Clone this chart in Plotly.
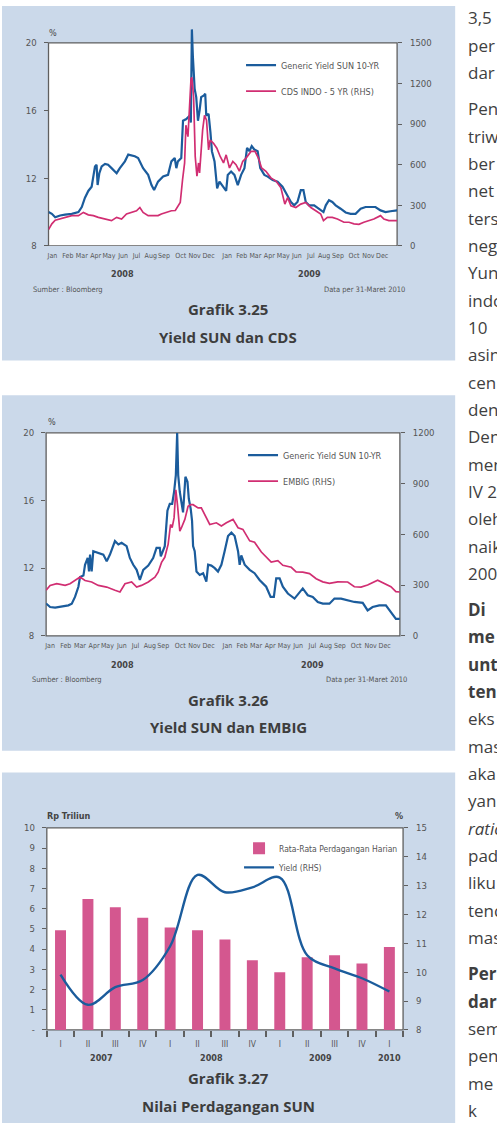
import plotly.graph_objects as go

# ---------------- data ----------------
month_pos = [0.27, 1.33, 2.29, 3.25, 4.16, 5.14, 6.06, 7.04, 7.95, 9.1, 10.06, 11.02,
             12.3, 13.3, 14.24, 15.2, 16.16, 17.1, 18.06, 18.97, 19.93, 21.03, 22.02, 22.97]
month_lbl = ["Jan", "Feb", "Mar", "Apr", "May", "Jun", "Jul", "Aug", "Sep", "Oct", "Nov", "Dec",
             "Jan", "Feb", "Mar", "Apr", "May", "Jun", "Jul", "Aug", "Sep", "Oct", "Nov", "Dec"]
year_pos_c1 = [5.1, 18.0]
year_pos_c2 = [5.2, 18.05]
year_lbl = ["2008", "2009"]

# Chart 3.25 : Generic yield SUN 10Y (%), month index since Jan-2008
c1_sun = [(0, 10.0), (0.23, 9.9), (0.46, 9.7), (0.8, 9.8), (1.14, 9.85), (1.6, 9.9), (2.06, 10.0),
          (2.29, 10.3), (2.51, 10.85), (2.74, 11.25), (2.97, 11.5), (3.09, 12.3), (3.2, 12.7),
          (3.31, 12.8), (3.38, 11.6), (3.5, 12.3), (3.66, 12.7), (3.89, 12.85), (4.1, 12.8),
          (4.34, 12.6), (4.69, 12.3), (4.91, 12.6), (5.26, 13.0), (5.49, 13.4), (5.94, 13.3),
          (6.17, 13.2), (6.51, 12.6), (6.86, 12.2), (7.09, 11.6), (7.27, 11.3), (7.54, 11.8),
          (7.89, 12.1), (8.23, 12.2), (8.46, 13.0), (8.69, 13.2), (8.8, 12.6), (8.91, 13.0),
          (9.14, 13.2), (9.26, 15.4), (9.49, 15.5), (9.71, 15.7), (9.8, 15.3), (9.87, 20.8),
          (9.94, 19.2), (10.06, 17.3), (10.17, 16.8), (10.29, 15.4), (10.4, 16.0), (10.51, 16.8),
          (10.7, 16.9), (10.79, 17.0), (10.86, 15.7), (11.02, 15.8), (11.15, 14.7), (11.25, 13.6),
          (11.43, 13.0), (11.61, 11.4), (11.77, 11.8), (12.0, 11.5), (12.23, 11.25), (12.34, 12.2),
          (12.57, 12.4), (12.8, 12.2), (13.03, 11.6), (13.26, 12.2), (13.49, 12.6), (13.67, 13.8),
          (13.83, 13.6), (13.99, 13.9), (14.17, 13.7), (14.4, 13.6), (14.58, 12.6), (14.86, 12.2),
          (15.09, 12.1), (15.43, 11.9), (15.77, 11.8), (16.11, 11.5), (16.46, 11.0), (16.69, 10.6),
          (16.91, 10.4), (17.14, 10.6), (17.37, 11.3), (17.55, 11.3), (17.71, 10.6), (17.94, 10.4),
          (18.29, 10.4), (18.63, 10.2), (18.93, 10.0), (19.09, 10.4), (19.31, 10.7), (19.54, 10.6),
          (19.77, 10.4), (20.11, 10.2), (20.46, 9.98), (20.8, 9.9), (21.14, 9.9), (21.49, 10.2),
          (21.83, 10.3), (22.17, 10.3), (22.51, 10.3), (22.86, 10.1), (23.2, 10.0), (23.54, 10.05),
          (24.0, 10.1)]
# CDS Indonesia 5Y (bps, RHS)
c1_cds = [(0, 120), (0.23, 163), (0.46, 190), (0.8, 200), (1.14, 211), (1.6, 224), (2.06, 224),
          (2.4, 248), (2.74, 230), (3.09, 224), (3.43, 211), (3.89, 199), (4.34, 187), (4.69, 211),
          (5.03, 199), (5.37, 236), (5.71, 248), (6.06, 260), (6.29, 284), (6.51, 248), (6.86, 224),
          (7.2, 224), (7.54, 224), (7.77, 236), (8.11, 248), (8.46, 260), (8.73, 262), (9.07, 321),
          (9.23, 491), (9.37, 613), (9.46, 892), (9.6, 807), (9.81, 1233), (9.87, 1245),
          (9.99, 1099), (10.1, 661), (10.22, 515), (10.33, 613), (10.4, 540), (10.61, 856),
          (10.74, 965), (10.88, 929), (11.02, 710), (11.13, 783), (11.36, 758), (11.59, 722),
          (11.82, 661), (12.05, 613), (12.23, 673), (12.46, 576), (12.69, 625), (12.91, 600),
          (13.14, 552), (13.37, 625), (13.6, 649), (13.94, 698), (14.22, 698), (14.45, 649),
          (14.67, 576), (14.97, 552), (15.31, 503), (15.66, 479), (16.0, 430), (16.27, 309),
          (16.46, 357), (16.69, 297), (17.03, 284), (17.37, 309), (17.71, 321), (18.06, 284),
          (18.4, 260), (18.74, 236), (18.93, 187), (19.2, 211), (19.54, 211), (19.89, 199),
          (20.34, 175), (20.69, 175), (21.03, 163), (21.37, 160), (21.71, 175), (22.06, 187),
          (22.4, 199), (22.86, 224), (23.09, 199), (23.43, 187), (23.77, 187), (24.0, 187)]

# Chart 3.26 : Generic yield SUN 10Y (%)
c2_sun = [(0, 9.91), (0.27, 9.7), (0.61, 9.67), (1.06, 9.75), (1.51, 9.8), (1.74, 9.9), (1.96, 10.3),
          (2.19, 10.9), (2.3, 11.47), (2.53, 11.56), (2.64, 12.2), (2.82, 12.6), (2.91, 11.8),
          (2.98, 12.8), (3.09, 11.8), (3.2, 13.0), (3.54, 12.9), (3.88, 12.8), (4.11, 12.4),
          (4.33, 12.8), (4.67, 13.6), (4.9, 13.4), (5.12, 13.5), (5.46, 13.3), (5.68, 12.6),
          (5.91, 12.2), (6.14, 11.9), (6.36, 11.3), (6.59, 11.9), (6.93, 12.15), (7.26, 12.6),
          (7.49, 13.2), (7.71, 13.2), (7.78, 12.7), (8.05, 13.3), (8.23, 15.4), (8.39, 15.8),
          (8.55, 15.8), (8.68, 16.5), (8.8, 17.5), (8.89, 20.0), (8.96, 17.5), (9.07, 16.5),
          (9.18, 15.8), (9.29, 15.3), (9.45, 17.4), (9.59, 17.1), (9.68, 16.1), (9.81, 15.5),
          (9.9, 14.8), (9.97, 13.3), (10.08, 13.0), (10.2, 11.8), (10.42, 11.6), (10.65, 11.7),
          (10.87, 11.2), (10.99, 12.2), (11.21, 12.15), (11.44, 12.0), (11.66, 11.8), (11.89, 12.2),
          (12.11, 13.0), (12.34, 13.9), (12.57, 14.1), (12.79, 13.9), (13.02, 13.0), (13.13, 12.2),
          (13.24, 12.75), (13.47, 12.2), (13.81, 11.9), (14.14, 11.7), (14.48, 11.3), (14.93, 10.9),
          (15.23, 10.3), (15.45, 10.3), (15.61, 11.4), (15.84, 11.4), (16.06, 10.9), (16.4, 10.5),
          (16.85, 10.2), (17.19, 10.6), (17.41, 10.8), (17.75, 10.4), (18.09, 10.3), (18.43, 10.0),
          (18.77, 9.9), (19.22, 9.9), (19.56, 10.2), (20.01, 10.2), (20.46, 10.1), (20.91, 10.0),
          (21.48, 9.95), (21.81, 9.5), (22.15, 9.7), (22.6, 9.8), (23.05, 9.8), (23.39, 9.4),
          (23.73, 9.0), (24.0, 9.0)]
# EMBIG (bps, RHS)
c2_embig = [(0, 269), (0.27, 298), (0.72, 308), (1.29, 298), (1.62, 308), (1.96, 327), (2.3, 347),
            (2.64, 327), (3.09, 318), (3.54, 298), (4.11, 288), (4.67, 269), (5.01, 259), (5.35, 308),
            (5.8, 318), (6.14, 288), (6.47, 298), (6.93, 318), (7.38, 347), (7.6, 376), (7.83, 434),
            (8.05, 464), (8.28, 542), (8.44, 658), (8.55, 639), (8.68, 697), (8.8, 863), (8.91, 775),
            (9.07, 619), (9.18, 639), (9.41, 688), (9.63, 765), (9.81, 775), (9.97, 775),
            (10.31, 756), (10.53, 756), (10.87, 697), (11.1, 658), (11.55, 668), (11.89, 649),
            (12.23, 668), (12.68, 688), (13.02, 639), (13.35, 629), (13.81, 561), (14.14, 553),
            (14.6, 495), (14.93, 464), (15.27, 436), (15.72, 444), (16.06, 417), (16.63, 405),
            (16.96, 378), (17.41, 376), (17.87, 368), (18.32, 337), (18.77, 319), (19.22, 310),
            (19.78, 319), (20.46, 318), (20.91, 290), (21.36, 288), (21.81, 300), (22.49, 329),
            (22.94, 308), (23.39, 290), (23.73, 261), (24.0, 259)]

# Chart 3.27
quarters = ["I", "II", "III", "IV", "I", "II", "III", "IV", "I", "II", "III", "IV", "I"]
quarter_year = ["2007", "2007", "2007", "2007", "2008", "2008", "2008", "2008",
                "2009", "2009", "2009", "2009", "2010"]
trading = [4.93, 6.48, 6.07, 5.55, 5.07, 4.93, 4.48, 3.45, 2.86, 3.6, 3.7, 3.29, 4.11]
yield_q = [9.92, 8.87, 9.48, 9.73, 10.9, 13.37, 12.77, 12.94, 13.28, 10.59, 10.13, 9.79, 9.33]

# Side body text (cut by the page edge, as in the source page)
body_lines = [("3,5", ""), ("per", ""), ("dar", ""), ("Pen", ""), ("triw", ""),
              ("ber", ""), ("net", ""), ("ters", ""), ("neg", ""), ("Yun", ""),
              ("indo", ""), ("10", ""), ("asin", ""), ("cen", ""), ("den", ""),
              ("Den", ""), ("men", ""), ("IV 2", ""), ("oleh", ""), ("naik", ""),
              ("200", ""), ("Di", "b"), ("me", "b"), ("unt", "b"), ("ten", "b"),
              ("eks", ""), ("mas", ""), ("aka", ""), ("yan", ""), ("ratio", "i"),
              ("pad", ""), ("liku", ""), ("tend", ""), ("mas", ""), ("Per", "b"),
              ("dar", "b"), ("sem", ""), ("pen", ""), ("me", ""), ("k", "")]
para_breaks = [3, 21, 34]

# ---------------- style ----------------
W, H = 497, 1128
PANEL = "#cbd9ea"
BLUE = "#1b5c9c"
PINK = "#d12e72"
BARPINK = "#d4578f"
AX = "#5f5f5f"
TXT = "#555555"
COND = "Liberation Sans Narrow, DejaVu Sans Condensed, Arial Narrow, sans-serif"
TITLEF = "Open Sans, Noto Sans, sans-serif"


def px(x):
    return x / W


def py(y):
    return 1 - y / H


fig = go.Figure()

# chart 1
fig.add_trace(go.Scatter(x=[p[0] for p in c1_sun], y=[p[1] for p in c1_sun],
                         name="Generic Yield SUN 10-YR", mode="lines", legendgroup="a1",
                         line=dict(color=BLUE, width=2.2), xaxis="x", yaxis="y", legend="legend"))
fig.add_trace(go.Scatter(x=[p[0] for p in c1_cds], y=[p[1] for p in c1_cds],
                         name="CDS INDO - 5 YR (RHS)", mode="lines", legendgroup="b1",
                         line=dict(color=PINK, width=1.7), xaxis="x", yaxis="y2", legend="legend"))
# chart 2
fig.add_trace(go.Scatter(x=[p[0] for p in c2_sun], y=[p[1] for p in c2_sun],
                         name="Generic Yield SUN 10-YR", mode="lines", legendgroup="a2",
                         line=dict(color=BLUE, width=2.2), xaxis="x2", yaxis="y3", legend="legend2"))
fig.add_trace(go.Scatter(x=[p[0] for p in c2_embig], y=[p[1] for p in c2_embig],
                         name="EMBIG (RHS)", mode="lines", legendgroup="b2",
                         line=dict(color=PINK, width=1.7), xaxis="x2", yaxis="y4", legend="legend2"))
# chart 3
qidx = list(range(len(quarters)))
fig.add_trace(go.Bar(x=qidx, y=trading, name="Rata-Rata Perdagangan Harian",
                     marker=dict(color=BARPINK, line=dict(width=0)), width=0.4,
                     xaxis="x3", yaxis="y5", legend="legend3"))
fig.add_trace(go.Scatter(x=qidx, y=yield_q, name="Yield (RHS)", mode="lines",
                         line=dict(color=BLUE, width=2.4, shape="spline", smoothing=1.0),
                         xaxis="x3", yaxis="y6", legend="legend3"))

tickfont = dict(family=COND, size=9.5, color=TXT)
monthfont = dict(family=COND, size=7, color=TXT)

# plot rectangles (pixels)
c1 = dict(l=46.7, r=396.7, t=37.3, b=242.3)
c2 = dict(l=44.3, r=399.5, t=431, b=636)
c3 = dict(l=45, r=402.7, t=830, b=1034)
c1_top_ext = 20.0  # pixel row of extended range top (spike overflow)
c1_ymax = 8 + 12 * (c1["b"] - c1_top_ext) / (c1["b"] - c1["t"])

common_x = dict(showgrid=False, zeroline=False, showline=False, tickangle=0)
common_y = dict(showgrid=False, zeroline=False, showline=False, ticks="outside",
                ticklen=4, tickwidth=1, tickcolor=AX, tickfont=tickfont)

layout = dict(
    width=W, height=H, margin=dict(l=0, r=0, t=0, b=0),
    paper_bgcolor="white", plot_bgcolor="rgba(0,0,0,0)",
    showlegend=True,
    xaxis=dict(domain=[px(c1["l"]), px(c1["r"])], range=[0, 24], anchor="y",
               tickmode="array", tickvals=month_pos, ticktext=month_lbl, ticks="",
               tickfont=monthfont, ticklabelstandoff=4, **common_x),
    yaxis=dict(domain=[py(c1["b"]), py(c1_top_ext)], range=[8, c1_ymax], anchor="x",
               tickmode="array", tickvals=[8, 12, 16, 20], ticklabelstandoff=5, **common_y),
    yaxis2=dict(overlaying="y", side="right", anchor="x", range=[0, 1500 * (c1_ymax - 8) / 12],
                tickmode="array", tickvals=[0, 300, 600, 900, 1200, 1500], ticklabelstandoff=6,
                **common_y),
    xaxis2=dict(domain=[px(c2["l"]), px(c2["r"])], range=[0, 24], anchor="y3",
                tickmode="array", tickvals=month_pos, ticktext=month_lbl, ticks="",
                tickfont=monthfont, ticklabelstandoff=4, **common_x),
    yaxis3=dict(domain=[py(c2["b"]), py(c2["t"])], range=[8, 20], anchor="x2",
                tickmode="array", tickvals=[8, 12, 16, 20], ticklabelstandoff=5, **common_y),
    yaxis4=dict(overlaying="y3", side="right", anchor="x2", range=[0, 1200],
                tickmode="array", tickvals=[0, 300, 600, 900, 1200], ticklabelstandoff=6, **common_y),
    xaxis3=dict(domain=[px(c3["l"]), px(c3["r"])], range=[-0.5, len(quarters) - 0.5], anchor="y5",
                tickmode="array", tickvals=qidx, ticktext=quarters, ticks="",
                tickfont=dict(family=COND, size=8.5, color=TXT), ticklabelstandoff=8,
                minor=dict(tickmode="array", tickvals=[i - 0.5 for i in range(len(quarters) + 1)],
                           ticks="outside", ticklen=6, tickwidth=1.6, tickcolor=AX),
                **common_x),
    yaxis5=dict(domain=[py(c3["b"]), py(c3["t"])], range=[0, 10], anchor="x3",
                tickmode="array", tickvals=list(range(11)),
                ticktext=["-"] + [str(i) for i in range(1, 11)], ticklabelstandoff=5, **common_y),
    yaxis6=dict(overlaying="y5", side="right", anchor="x3", range=[8, 15],
                tickmode="array", tickvals=list(range(8, 16)), ticklabelstandoff=6, **common_y),
)

legfont = dict(family=COND, size=9, color=TXT)
layout["legend"] = dict(x=px(240), y=py(45), xanchor="left", yanchor="top", font=legfont,
                        bgcolor="rgba(0,0,0,0)", tracegroupgap=7, itemwidth=30)
layout["legend2"] = dict(x=px(242), y=py(439), xanchor="left", yanchor="top", font=legfont,
                         bgcolor="rgba(0,0,0,0)", tracegroupgap=7, itemwidth=30)
layout["legend3"] = dict(x=px(238), y=py(836), xanchor="left", yanchor="top",
                         font=dict(family=COND, size=8.5, color=TXT),
                         bgcolor="rgba(0,0,0,0)", tracegroupgap=0, itemwidth=30)

shapes = []
# panels
for (y0, y1) in [(0, 358), (393, 752), (774, 1128)]:
    shapes.append(dict(type="rect", xref="paper", yref="paper", x0=0, x1=px(455),
                       y0=py(y1), y1=py(y0), fillcolor=PANEL, line=dict(width=0), layer="below"))
# plot frames
shapes.append(dict(type="rect", xref="x domain", yref="y", x0=0, x1=1, y0=8, y1=20,
                   fillcolor="white", line=dict(color=AX, width=1.3), layer="below"))
shapes.append(dict(type="rect", xref="x2 domain", yref="y3 domain", x0=0, x1=1, y0=0, y1=1,
                   fillcolor="white", line=dict(color=AX, width=1.3), layer="below"))
shapes.append(dict(type="rect", xref="x3 domain", yref="y5 domain", x0=0, x1=1, y0=0, y1=1,
                   fillcolor="white", line=dict(color=AX, width=1.3), layer="below"))
layout["shapes"] = shapes

ann = []


def text(x, y, s, size=9, color=TXT, family=COND, xanchor="center", xref="paper", yanchor="middle"):
    ann.append(dict(x=x if xref != "paper" else px(x), y=py(y), xref=xref, yref="paper", text=s,
                    showarrow=False, xanchor=xanchor, yanchor=yanchor,
                    font=dict(size=size, color=color, family=family)))


# chart 1 texts
text(51, 27, "%", size=9, color="#444")
for pos, lbl in zip(year_pos_c1, year_lbl):
    text(pos, 271, "<b>" + lbl + "</b>", size=9, color="#444", xref="x")
text(29, 286, "Sumber : Bloomberg", size=7.5, xanchor="left")
text(407, 286, "Data per 31-Maret 2010", size=7.5, xanchor="right")
text(227, 306, "<b>Grafik 3.25</b>", size=15, color="#3d3d3d", family=TITLEF)
text(227, 334, "<b>Yield SUN dan CDS</b>", size=15, color="#3d3d3d", family=TITLEF)
# chart 2 texts
text(50, 420, "%", size=9, color="#444")
for pos, lbl in zip(year_pos_c2, year_lbl):
    text(pos, 665, "<b>" + lbl + "</b>", size=9, color="#444", xref="x2")
text(28, 680, "Sumber : Bloomberg", size=7.5, xanchor="left")
text(409, 680, "Data per 31-Maret 2010", size=7.5, xanchor="right")
text(227, 701, "<b>Grafik 3.26</b>", size=15, color="#3d3d3d", family=TITLEF)
text(227, 728, "<b>Yield SUN dan EMBIG</b>", size=15, color="#3d3d3d", family=TITLEF)
# chart 3 texts
text(43, 818, "<b>Rp Triliun</b>", size=9, color="#444", xanchor="left")
text(399, 818, "<b>%</b>", size=9, color="#444")
years3 = []
for yr in quarter_year:
    if yr not in years3:
        years3.append(yr)
for yr in years3:
    idx = [i for i, q in enumerate(quarter_year) if q == yr]
    text(sum(idx) / len(idx), 1062, "<b>" + yr + "</b>", size=9, color="#444", xref="x3")
text(227, 1083, "<b>Grafik 3.27</b>", size=15, color="#3d3d3d", family=TITLEF)
text(227, 1111, "<b>Nilai Perdagangan SUN</b>", size=15, color="#3d3d3d", family=TITLEF)

# body text column
line_h, gap = 27.6, 9
y = 12
for i, (w, st) in enumerate(body_lines):
    if i in para_breaks:
        y += gap
    s = w
    if st == "b":
        s = "<b>" + w + "</b>"
    elif st == "i":
        s = "<i>" + w + "</i>"
    text(466, y, s, size=17, color="#3f3f3f", family="Open Sans, Noto Sans, sans-serif",
         xanchor="left")
    y += line_h

layout["annotations"] = ann
fig.update_layout(**layout)
fig.write_html("out.html")
